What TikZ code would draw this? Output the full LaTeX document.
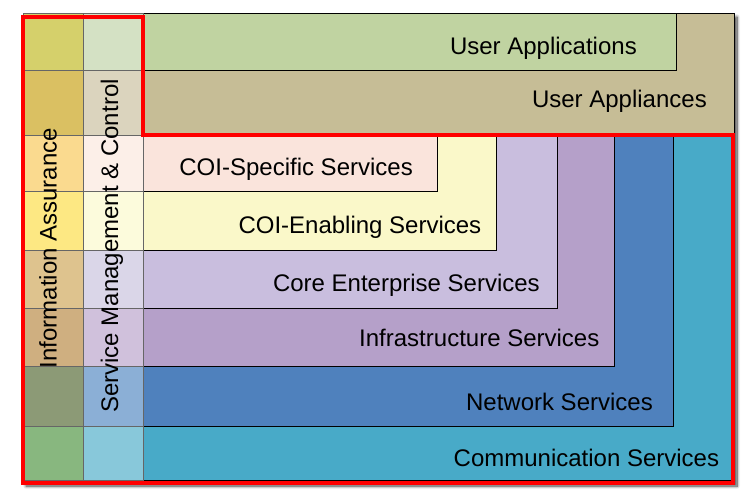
\documentclass[tikz,border=0pt]{standalone}
\usepackage{fontspec}
\setmainfont{Liberation Sans}
\usetikzlibrary{shadows.blur}
% layer colours
\definecolor{userapp}{HTML}{C0D3A1}
\definecolor{userdev}{HTML}{C6BD96}
\definecolor{coispec}{HTML}{FAE4DC}
\definecolor{coienab}{HTML}{FAF8C9}
\definecolor{coreent}{HTML}{C9BEDE}
\definecolor{infra}{HTML}{B5A0C9}
\definecolor{netw}{HTML}{4F81BD}
\definecolor{comm}{HTML}{48AAC8}
% column colours
\definecolor{iaA}{HTML}{D5D06B}
\definecolor{iaB}{HTML}{DAC062}
\definecolor{iaC}{HTML}{FADA8F}
\definecolor{iaD}{HTML}{FDE883}
\definecolor{iaE}{HTML}{DEC38E}
\definecolor{iaF}{HTML}{CFAF80}
\definecolor{iaG}{HTML}{8C9A76}
\definecolor{iaH}{HTML}{88B77F}
\definecolor{smA}{HTML}{D4E1C4}
\definecolor{smB}{HTML}{DBD4BE}
\definecolor{smC}{HTML}{FCEFE8}
\definecolor{smD}{HTML}{FCFBDC}
\definecolor{smE}{HTML}{DAD6E8}
\definecolor{smF}{HTML}{D0C1DC}
\definecolor{smG}{HTML}{8BAFD6}
\definecolor{smH}{HTML}{88C8DA}
\begin{document}
\begin{tikzpicture}[line join=miter,x=1pt,y=-1pt]
		\tikzset{every node/.style={font=\fontsize{24}{28}\selectfont,inner sep=0pt},
			layer/.style={draw=black,line width=0.8pt},
			cell/.style={draw=black!60,line width=0.6pt}}
		\useasboundingbox (0,0) rectangle (744,498);
		%Khung ngoài có bóng
		\fill[white,blur shadow={shadow xshift=3pt,shadow yshift=-4pt,shadow blur steps=10,shadow blur radius=3pt,shadow opacity=75}] (23,13) rectangle (734,482);
		%Các lớp dịch vụ, từ lớn đến nhỏ
		\foreach \r/\b/\c in {734/480/comm,673/426/netw,614/366/infra,557/308/coreent,496/250/coienab,437/191/coispec}
		\draw[layer,fill=\c] (143,135) rectangle (\r,\b);
		\draw[layer,fill=userdev] (143,13) rectangle (734,135);
		\draw[layer,fill=userapp] (143,13) rectangle (676,70);
		%Hai cột bên trái
		\foreach \t/\b/\ca/\cb in {13/70/iaA/smA,70/135/iaB/smB,135/191/iaC/smC,191/250/iaD/smD,250/308/iaE/smE,308/366/iaF/smF,366/426/iaG/smG,426/480/iaH/smH}
		{\draw[cell,fill=\ca] (23,\t) rectangle (83,\b);
		\draw[cell,fill=\cb] (83,\t) rectangle (143,\b);}
		%Nhãn các lớp
		\foreach \n/\x/\y/\t in {uapp/637/54.3/User Applications,udev/707/107.3/User Appliances,spec/413/175/COI-Specific Services,enab/481.5/233.3/COI-Enabling Services,core/540/291.7/Core Enterprise Services,infr/599.5/346/Infrastructure Services,netw/653/410.7/Network Services,comm/719.3/466.7/Communication Services}
		\node[anchor=base east] (\n) at (\x,\y) {\t};
		\node[rotate=90] (ia) at (48,248) {Information Assurance};
		\node[rotate=90] (smc) at (112,246) {Service Management \& Control};
		%Viền đỏ
		\draw[red,line width=4pt] (23,16.5)--(143,16.5)--(143,135)--(732.5,135)--(732.5,482.5)--(23,482.5)--cycle;
\end{tikzpicture}
\end{document}
